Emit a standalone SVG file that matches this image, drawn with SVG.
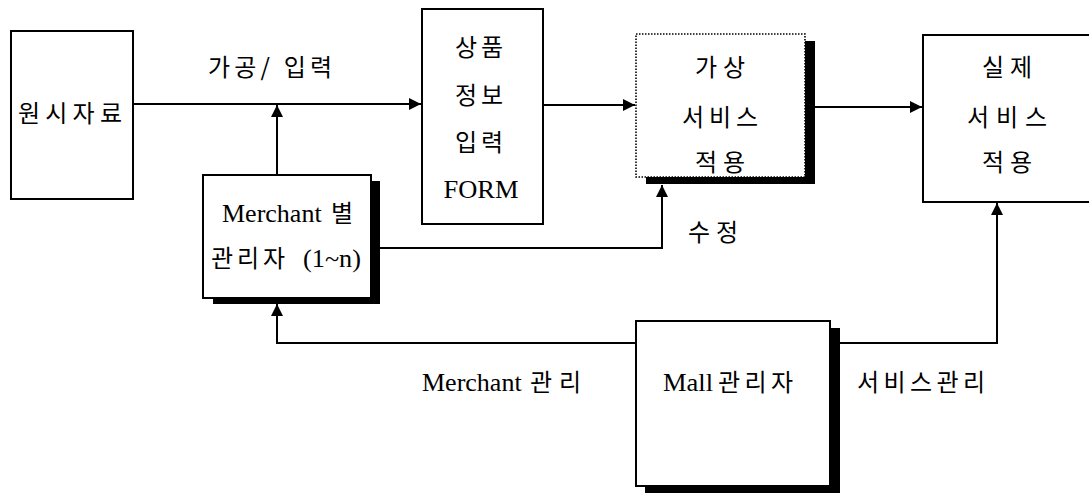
<svg xmlns="http://www.w3.org/2000/svg" width="1089" height="494" viewBox="0 0 1089 494">
<style>
.box{fill:#fff;stroke:#000;stroke-width:2}
.dot{fill:#fff;stroke:#000;stroke-width:1.6;stroke-dasharray:1.5 1.5}
.sh{fill:#000}
.ko{font-family:"Noto Sans CJK KR","Noto Sans",sans-serif;font-size:24px;fill:#000}
.en{font-family:"Liberation Serif","Times New Roman",serif;font-size:26px;fill:#000}
.ln{fill:none;stroke:#000;stroke-width:2}
</style>
<defs>
<marker id="ah" viewBox="0 0 10 10" refX="10" refY="5" markerWidth="12" markerHeight="12" markerUnits="userSpaceOnUse" orient="auto">
<path d="M0,0 L10,5 L0,10 z" fill="#000"/>
</marker>
</defs>
<rect width="1089" height="494" fill="#fff"/>

<g id="connectors">
<path class="ln" d="M133,104 H421" marker-end="url(#ah)"/>
<path class="ln" d="M277,174 V105" marker-end="url(#ah)"/>
<path class="ln" d="M543,105 H635" marker-end="url(#ah)"/>
<path class="ln" d="M815,107 H922" marker-end="url(#ah)"/>
<path class="ln" d="M380,248 H662 V185" marker-end="url(#ah)"/>
<path class="ln" d="M636,343 H277 V304" marker-end="url(#ah)"/>
<path class="ln" d="M840,343 H997 V203" marker-end="url(#ah)"/>
</g>

<g id="label-gagong">
<text class="ko" x="270" y="76" text-anchor="middle" textLength="124" lengthAdjust="spacing">가공/ 입력</text>
</g>
<g id="label-sujeong">
<text class="ko" x="713" y="241" text-anchor="middle" textLength="50" lengthAdjust="spacing">수정</text>
</g>
<g id="label-merchant-mgmt">
<text x="422" y="391"><tspan class="en">Merchant</tspan><tspan class="ko" x="530" y="391" textLength="51" lengthAdjust="spacing">관리</tspan></text>
</g>
<g id="label-service-mgmt">
<text class="ko" x="921" y="391" text-anchor="middle" textLength="128" lengthAdjust="spacing">서비스관리</text>
</g>

<g id="node-raw">
<rect class="box" x="11" y="31" width="122" height="168"/>
<text class="ko" x="70" y="122" text-anchor="middle" textLength="104" lengthAdjust="spacing">원시자료</text>
</g>

<g id="node-form">
<rect class="box" x="422" y="9" width="121" height="215"/>
<text class="ko" x="479" y="56" text-anchor="middle" textLength="48" lengthAdjust="spacing">상품</text>
<text class="ko" x="479" y="104" text-anchor="middle" textLength="48" lengthAdjust="spacing">정보</text>
<text class="ko" x="479" y="151" text-anchor="middle" textLength="48" lengthAdjust="spacing">입력</text>
<text class="en" x="481" y="198" text-anchor="middle" textLength="75" lengthAdjust="spacingAndGlyphs">FORM</text>
</g>

<g id="node-virtual">
<rect class="sh" x="646" y="41" width="169" height="143"/>
<rect class="dot" x="636" y="34" width="169" height="143"/>
<text class="ko" x="720" y="76" text-anchor="middle" textLength="50" lengthAdjust="spacing">가상</text>
<text class="ko" x="720" y="126" text-anchor="middle" textLength="76" lengthAdjust="spacing">서비스</text>
<text class="ko" x="720" y="171" text-anchor="middle" textLength="50" lengthAdjust="spacing">적용</text>
</g>

<g id="node-real">
<rect class="box" x="923" y="35" width="170" height="167"/>
<text class="ko" x="1007" y="76" text-anchor="middle" textLength="50" lengthAdjust="spacing">실제</text>
<text class="ko" x="1007" y="126" text-anchor="middle" textLength="80" lengthAdjust="spacing">서비스</text>
<text class="ko" x="1007" y="171" text-anchor="middle" textLength="50" lengthAdjust="spacing">적용</text>
</g>

<g id="node-merchant">
<rect class="sh" x="213" y="181" width="167" height="123"/>
<rect class="box" x="203" y="175" width="168" height="123"/>
<text x="222" y="222"><tspan class="en">Merchant</tspan><tspan class="ko" x="331" y="222">별</tspan></text>
<text x="211" y="267"><tspan class="ko" textLength="74" lengthAdjust="spacing">관리자</tspan><tspan class="en" x="303" y="267" textLength="58" lengthAdjust="spacingAndGlyphs">(1~n)</tspan></text>
</g>

<g id="node-mall">
<rect class="sh" x="645" y="328" width="195" height="165"/>
<rect class="box" x="636" y="321" width="194" height="165"/>
<text x="663" y="391"><tspan class="en" textLength="50" lengthAdjust="spacingAndGlyphs">Mall</tspan><tspan class="ko" x="718" y="391" textLength="75" lengthAdjust="spacing">관리자</tspan></text>
</g>
</svg>
